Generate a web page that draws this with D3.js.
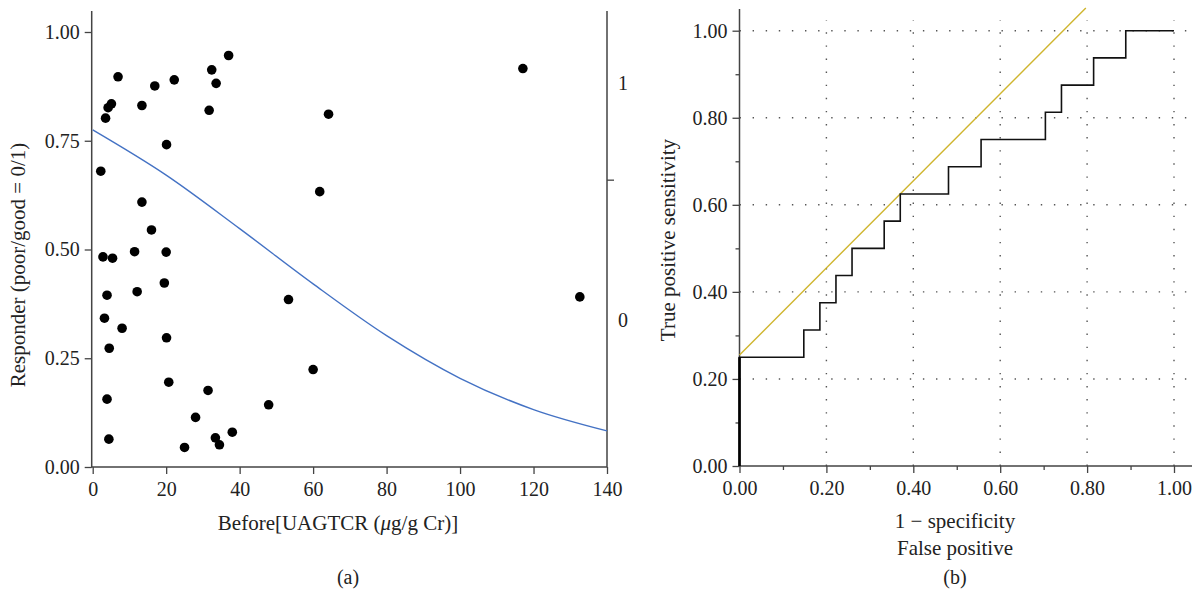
<!DOCTYPE html>
<html>
<head>
<meta charset="utf-8">
<script src="https://cdn.jsdelivr.net/npm/d3@7"></script>
<style>
  body { margin: 0; background: #fff; }
  svg text { font-family: "Liberation Serif", "DejaVu Serif", serif; fill: #222; }
</style>
</head>
<body>
<div id="chart"></div>
<script>
'use strict';

// (a) scatter: UAGTCR before vs responder (jittered)
const scatterX = [6.9, 16.9, 22.2, 13.4, 5.1, 4.2, 3.5, 31.7, 32.4, 33.6, 37.0, 20.1, 2.2,
  117.1, 64.2, 61.8, 53.3, 132.6, 60.0, 47.9,
  13.4, 16.0, 2.8, 5.4, 11.4, 20.0, 19.5, 12.1, 3.9, 3.2,
  8.0, 20.1, 4.5, 20.7, 31.4, 3.9, 28.0, 38.0, 33.4, 34.5, 25.0, 4.4];
const scatterY = [0.897, 0.876, 0.890, 0.831, 0.835, 0.826, 0.802, 0.820, 0.913, 0.882, 0.946, 0.741, 0.680,
  0.916, 0.811, 0.633, 0.385, 0.391, 0.224, 0.143,
  0.609, 0.545, 0.483, 0.480, 0.495, 0.494, 0.423, 0.403, 0.395, 0.342,
  0.319, 0.297, 0.273, 0.195, 0.176, 0.156, 0.114, 0.080, 0.067, 0.051, 0.045, 0.064];

// fitted curve
const curveX = [0, 20, 40, 60, 80, 100, 120, 140];
const curveY = [0.775, 0.671, 0.548, 0.421, 0.302, 0.204, 0.132, 0.083];

const ticksA = [0, 20, 40, 60, 80, 100, 120, 140];
const ticksAY = [0, 0.25, 0.5, 0.75, 1];

// (b) ROC curve
const rocFpr = [0, 0, 0.148, 0.185, 0.222, 0.259, 0.333, 0.370, 0.481, 0.556, 0.704, 0.741, 0.815, 0.889, 1];
const rocTpr = [0, 0.25, 0.3125, 0.375, 0.4375, 0.5, 0.5625, 0.625, 0.6875, 0.75, 0.8125, 0.875, 0.9375, 1, 1];
const tangentX = [0, 0.797];
const tangentY = [0.255, 1.052];
const ticksB = [0, 0.2, 0.4, 0.6, 0.8, 1];

const W = 1195, H = 600;
const svg = d3.select('#chart').append('svg')
    .attr('width', W).attr('height', H);

const axisColor = '#444';
const fmt2 = d3.format('.2f');

function styleAxis(g) {
  g.selectAll('path, line').attr('stroke', axisColor).attr('stroke-width', 1.3);
  g.selectAll('text').attr('font-size', 20).attr('fill', '#222')
    .attr('font-family', '"Liberation Serif", serif');
}

// ---------- panel (a) ----------
const xA = d3.scaleLinear().domain([0, 140]).range([92.7, 607]);
const yA = d3.scaleLinear().domain([0, 1]).range([467, 32]);
const yA2 = d3.scaleLinear().domain([0, 1]).range([320, 83]);

const gA = svg.append('g');

gA.append('g')
    .attr('transform', `translate(0,${yA(0)})`)
    .call(d3.axisBottom(xA).tickValues(ticksA).tickSize(7).tickPadding(8).tickFormat(d3.format('d')).tickSizeOuter(0))
    .call(styleAxis)
    .call(g => g.select('.domain').remove());

gA.append('g')
    .attr('transform', `translate(${xA(0) - 1},0)`)
    .call(d3.axisLeft(yA).tickValues(ticksAY).tickSize(7).tickPadding(5).tickFormat(fmt2).tickSizeOuter(0))
    .call(styleAxis)
    .call(g => g.select('.domain').remove());

// right-hand 0/1 axis
gA.append('g')
    .attr('transform', `translate(${xA(140)},0)`)
    .call(d3.axisRight(yA2).tickValues([0, 1]).tickSize(0).tickPadding(11).tickFormat(d3.format('d')))
    .call(styleAxis)
    .call(g => g.select('.domain').remove());
gA.append('line')
    .attr('x1', xA(140)).attr('x2', xA(140) + 7)
    .attr('y1', yA2(0.59)).attr('y2', yA2(0.59))
    .attr('stroke', axisColor).attr('stroke-width', 1.3);

// frame lines (left, bottom, right)
const topA = yA(1.048);
gA.append('path')
    .attr('d', `M${xA(0) - 1},${topA}V${yA(0)}H${xA(140)}V${topA}`)
    .attr('fill', 'none').attr('stroke', axisColor).attr('stroke-width', 1.5);

const lineA = d3.line()
    .x((d, i) => xA(curveX[i]))
    .y(d => yA(d))
    .curve(d3.curveMonotoneX);
gA.append('path')
    .datum(curveY)
    .attr('d', lineA)
    .attr('fill', 'none')
    .attr('stroke', '#4472c4')
    .attr('stroke-width', 1.4);

gA.selectAll('circle.pt')
    .data(scatterX)
    .enter().append('circle')
    .attr('class', 'pt')
    .attr('cx', d => xA(d))
    .attr('cy', (d, i) => yA(scatterY[i]))
    .attr('r', 4.8)
    .attr('fill', '#000');

gA.append('text')
    .attr('x', 338).attr('y', 530)
    .attr('text-anchor', 'middle').attr('font-size', 21)
    .html('Before[UAGTCR (<tspan font-style="italic">μ</tspan>g/g Cr)]');

gA.append('text')
    .attr('transform', 'translate(25,265) rotate(-90)')
    .attr('text-anchor', 'middle').attr('font-size', 21)
    .text('Responder (poor/good = 0/1)');

gA.append('text')
    .attr('x', 348).attr('y', 584)
    .attr('text-anchor', 'middle').attr('font-size', 20)
    .text('(a)');

// ---------- panel (b) ----------
const xB = d3.scaleLinear().domain([0, 1]).range([739.5, 1174]);
const yB = d3.scaleLinear().domain([0, 1]).range([466, 30.7]);
const gB = svg.append('g');

// dotted grid
const gridColor = '#555';
gB.append('g').selectAll('line')
    .data(ticksB.slice(1))
    .enter().append('line')
    .attr('x1', xB(0)).attr('x2', 1192)
    .attr('y1', d => yB(d)).attr('y2', d => yB(d))
    .attr('stroke', gridColor).attr('stroke-width', 1.4)
    .attr('stroke-dasharray', '1.4,11.7');
gB.append('g').selectAll('line')
    .data(ticksB.slice(1))
    .enter().append('line')
    .attr('x1', d => xB(d)).attr('x2', d => xB(d))
    .attr('y1', yB(0)).attr('y2', 20)
    .attr('stroke', gridColor).attr('stroke-width', 1.4)
    .attr('stroke-dasharray', '1.4,11.7');

// minor ticks
const minorB = [0.1, 0.3, 0.5, 0.7, 0.9];
gB.append('g')
    .attr('transform', `translate(0,${yB(0)})`)
    .call(d3.axisBottom(xB).tickValues(minorB).tickSize(4).tickFormat(''))
    .call(styleAxis)
    .call(g => g.select('.domain').remove());
gB.append('g')
    .attr('transform', `translate(${xB(0)},0)`)
    .call(d3.axisLeft(yB).tickValues(minorB).tickSize(4).tickFormat(''))
    .call(styleAxis)
    .call(g => g.select('.domain').remove());

gB.append('g')
    .attr('transform', `translate(0,${yB(0)})`)
    .call(d3.axisBottom(xB).tickValues(ticksB).tickSize(7).tickPadding(8).tickFormat(fmt2))
    .call(styleAxis)
    .call(g => g.select('.domain').remove());
gB.append('g')
    .attr('transform', `translate(${xB(0)},0)`)
    .call(d3.axisLeft(yB).tickValues(ticksB).tickSize(7).tickPadding(5).tickFormat(fmt2))
    .call(styleAxis)
    .call(g => g.select('.domain').remove());

gB.append('path')
    .attr('d', `M${xB(0)},9V${yB(0)}H1192`)
    .attr('fill', 'none').attr('stroke', axisColor).attr('stroke-width', 1.5);

// tangent line
gB.append('path')
    .datum(tangentX)
    .attr('d', d3.line().x(d => xB(d)).y((d, i) => yB(tangentY[i])))
    .attr('fill', 'none')
    .attr('stroke', '#cfb52e')
    .attr('stroke-width', 1.4);

// ROC step curve
gB.append('path')
    .datum(rocFpr)
    .attr('d', d3.line().x(d => xB(d)).y((d, i) => yB(rocTpr[i])).curve(d3.curveStepAfter))
    .attr('fill', 'none')
    .attr('stroke', '#111')
    .attr('stroke-width', 1.6);
gB.append('line')
    .attr('x1', xB(0)).attr('x2', xB(0))
    .attr('y1', yB(0)).attr('y2', yB(rocTpr[1]))
    .attr('stroke', '#000').attr('stroke-width', 2.6);

gB.append('text')
    .attr('x', 955).attr('y', 528)
    .attr('text-anchor', 'middle').attr('font-size', 21)
    .text('1 − specificity');
gB.append('text')
    .attr('x', 955).attr('y', 555)
    .attr('text-anchor', 'middle').attr('font-size', 21)
    .text('False positive');
gB.append('text')
    .attr('transform', 'translate(675,240) rotate(-90)')
    .attr('text-anchor', 'middle').attr('font-size', 21)
    .text('True positive sensitivity');
gB.append('text')
    .attr('x', 955).attr('y', 584)
    .attr('text-anchor', 'middle').attr('font-size', 20)
    .text('(b)');
</script>
</body>
</html>
